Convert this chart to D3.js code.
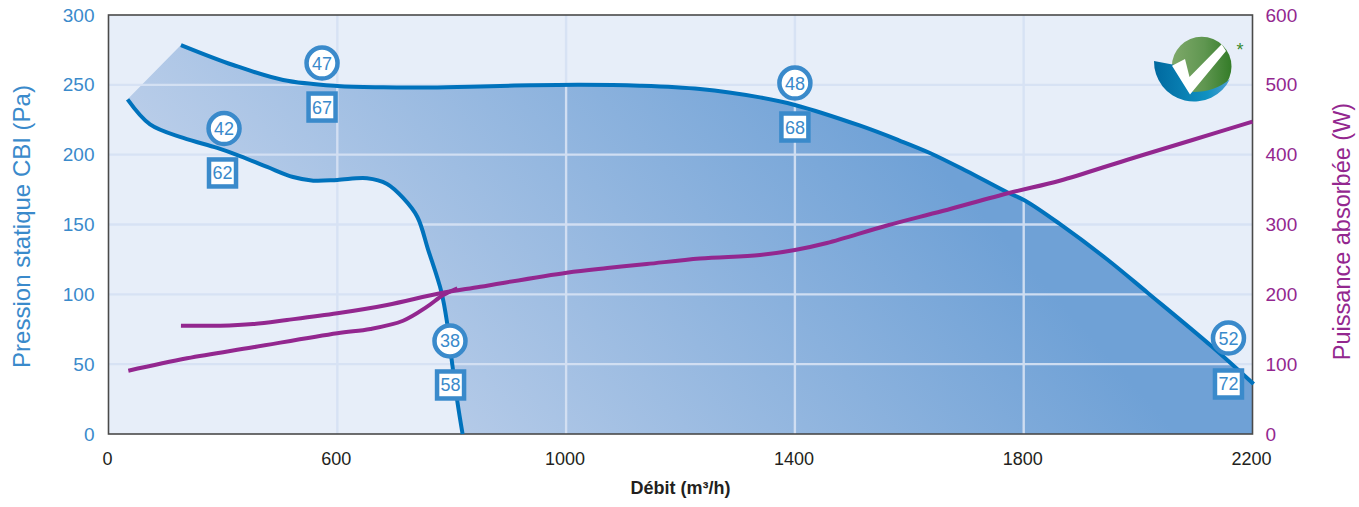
<!DOCTYPE html>
<html><head><meta charset="utf-8">
<script src="https://cdnjs.cloudflare.com/ajax/libs/d3/7.8.5/d3.min.js"></script>
<style>html,body{margin:0;padding:0;background:#fff}svg{display:block}text{font-family:"Liberation Sans",Arial,sans-serif}</style>
</head><body><svg id="c" width="1359" height="507"></svg>
<script>
// Axis ticks (the reference's scale is equally spaced, with a non-linear first interval)
const xTicks = [0, 600, 1000, 1400, 1800, 2200];
const pressureTicks = [0, 50, 100, 150, 200, 250, 300];
const powerTicks = [0, 100, 200, 300, 400, 500, 600];

// [debit m3/h, pressure Pa]
const curveHigh = [[190,278.5],[327,264.2],[458,253.5],[600,249.2],[680,248.2],[762,248.1],[850,248.8],[937,249.7],[1024,250.1],[1129,249.4],[1234,247],[1339,241],[1400,235.6],[1513,220.9],[1583,210.1],[1636,201.2],[1700,188.3],[1772,172.9],[1802,167.2],[1863,150.4],[1945,125.3],[2017,101],[2130,62.3],[2202,35.8]];
const curveLow = [[50,239.6],[109,221.7],[196,212],[285,204.8],[345,199],[416,191.2],[484,184],[537,181.4],[600,181.9],[652,183.1],[687,179],[715,169],[740,155.4],[759,131.7],[782,101.7],[792,79.5],[800,53],[810,22.9],[819,0]];
// [debit m3/h, power W]
const powerHigh = [[190,155.1],[293,155.1],[379,157.5],[468,163.3],[600,172.8],[687,184.7],[780,201.5],[850,210.9],[1001,231],[1072,237.7],[1141,243.4],[1234,251.3],[1339,256.3],[1400,263.5],[1456,273.5],[1561,298.6],[1658,319.3],[1776,345.5],[1863,362.7],[1980,392.4],[2095,421],[2200,447.2]];
const powerLow = [[52,90.6],[206,108.4],[379,124.2],[600,144.3],[658,150.4],[715,162.2],[757,182.3],[785,199],[810,208.6]];
// Annotated operating points: [debit, pressure, label]
const circleMarks = [[560,265.6,"47"],[303,218.7,"42"],[1400,251.3,"48"],[797,66.6,"38"],[2158,68.7,"52"]];
const squareMarks = [[560,234.1,"67"],[299,186.9,"62"],[1400,219.8,"68"],[798,35.1,"58"],[2158,35.8,"72"]];

const L=108.5,R=1252.5,T=15,B=434;
const BLUE="#3a8acb",LINE="#0072bc",PURPLE="#93278f";
const svg=d3.select("#c");
const x=d3.scaleLinear().domain([0,600,2200]).range([L,L+(R-L)/5,R]);
const yP=d3.scaleLinear().domain([0,300]).range([B,T]);
const yW=d3.scaleLinear().domain([0,600]).range([B,T]);

const defs=svg.append("defs");
const grad=defs.append("linearGradient").attr("id","fill").attr("gradientUnits","userSpaceOnUse")
  .attr("x1",470).attr("y1",500).attr("x2",900).attr("y2",120);
grad.append("stop").attr("offset",0).attr("stop-color","#b9cde9");
grad.append("stop").attr("offset",1).attr("stop-color","#6fa1d6");
const gb=defs.append("linearGradient").attr("id","lb");
gb.append("stop").attr("offset",0).attr("stop-color","#00699f");
gb.append("stop").attr("offset",.7).attr("stop-color","#1091c2");
gb.append("stop").attr("offset",1).attr("stop-color","#4f9fd2");
const gg=defs.append("linearGradient").attr("id","lg");
gg.append("stop").attr("offset",0).attr("stop-color","#7fa96a");
gg.append("stop").attr("offset",.55).attr("stop-color","#5f9650");
gg.append("stop").attr("offset",1).attr("stop-color","#347c28");
defs.append("clipPath").attr("id","plot").append("rect").attr("x",L).attr("y",T).attr("width",R-L).attr("height",B-T);

svg.append("rect").attr("x",L).attr("y",T).attr("width",R-L).attr("height",B-T).attr("fill","#e7eef9");

// Shaded operating zone between both pressure curves
const line=(sx,sy)=>d3.line().x(d=>sx(d[0])).y(d=>sy(d[1])).curve(d3.curveCatmullRom.alpha(0.5));
const upperPath=line(x,yP)(curveHigh), lowerPath=line(x,yP)(curveLow.slice().reverse());
svg.append("path").attr("clip-path","url(#plot)").attr("fill","url(#fill)")
  .attr("d",upperPath+"L"+R+","+B+"L"+x(curveLow[curveLow.length-1][0])+","+B+"L"+lowerPath.slice(1)+"Z");

// Grid
const grid=svg.append("g").attr("stroke","#d6e2f4").attr("stroke-width",2.4).attr("opacity",.92);
pressureTicks.slice(1,-1).forEach(t=>grid.append("line").attr("x1",L).attr("x2",R).attr("y1",yP(t)).attr("y2",yP(t)));
xTicks.slice(1,-1).forEach(t=>grid.append("line").attr("y1",T).attr("y2",B).attr("x1",x(t)).attr("x2",x(t)));

// Frame
svg.append("rect").attr("x",L).attr("y",T).attr("width",R-L).attr("height",B-T).attr("fill","none").attr("stroke","#4a4a4a").attr("stroke-width",1.6);

// Curves
[curveHigh,curveLow].forEach(c=>svg.append("path").attr("d",line(x,yP)(c)).attr("fill","none").attr("stroke",LINE).attr("stroke-width",4));
[powerLow,powerHigh].forEach(c=>svg.append("path").attr("d",line(x,yW)(c)).attr("fill","none").attr("stroke",PURPLE).attr("stroke-width",4));

// Logo
const logo=svg.append("g");
logo.append("circle").attr("cx",1201.7).attr("cy",66.5).attr("r",29.8).attr("fill","url(#lg)");
logo.append("path").attr("fill","url(#lb)").attr("d","M1154,61L1175,65L1193,92Q1215,92 1230,79A40 40 0 0 1 1154,61Z");
logo.append("path").attr("fill","#fff").attr("d","M1172,65.7L1185,59L1189.5,77L1221.7,44.3L1226,51L1190,94.5Z");
logo.append("text").attr("x",1240).attr("y",56).attr("text-anchor","middle").attr("font-size",18).attr("fill","#3a8a30").text("*");

// Operating-point markers
const mk=svg.append("g");
circleMarks.forEach(d=>{
  mk.append("circle").attr("cx",x(d[0])).attr("cy",yP(d[1])).attr("r",15.5).attr("fill","#fff").attr("stroke",BLUE).attr("stroke-width",4.5);
  mk.append("text").attr("x",x(d[0])).attr("y",yP(d[1])+6.5).attr("text-anchor","middle").attr("font-size",18).attr("fill",BLUE).text(d[2]);
});
squareMarks.forEach(d=>{
  mk.append("rect").attr("x",x(d[0])-13.5).attr("y",yP(d[1])-13.5).attr("width",27).attr("height",27).attr("fill","#fff").attr("stroke",BLUE).attr("stroke-width",4.5);
  mk.append("text").attr("x",x(d[0])).attr("y",yP(d[1])+6.5).attr("text-anchor","middle").attr("font-size",18).attr("fill",BLUE).text(d[2]);
});

// Axes
function style(g,color,size){g.select(".domain").remove();g.selectAll(".tick line").remove();g.selectAll("text").attr("fill",color).attr("font-size",size).attr("font-family",'"Liberation Sans",Arial,sans-serif');}
svg.append("g").attr("transform",`translate(${L-1},0)`).call(d3.axisLeft(yP).tickValues(pressureTicks).tickSize(0).tickPadding(13)).call(style,BLUE,19);
svg.append("g").attr("transform",`translate(${R},0)`).call(d3.axisRight(yW).tickValues(powerTicks).tickSize(0).tickPadding(13)).call(style,PURPLE,19);
svg.append("g").attr("transform",`translate(-1.5,${B})`).call(d3.axisBottom(x).tickValues(xTicks).tickFormat(d3.format("d")).tickSize(0).tickPadding(18)).call(style,"#231f20",18);

svg.append("text").attr("transform","translate(30,226.5) rotate(-90)").attr("text-anchor","middle").attr("font-size",24).attr("fill",BLUE).text("Pression statique CBI (Pa)");
svg.append("text").attr("transform","translate(1350,231.5) rotate(-90)").attr("text-anchor","middle").attr("font-size",23.5).attr("fill",PURPLE).text("Puissance absorbée (W)");
svg.append("text").attr("x",680.5).attr("y",494).attr("text-anchor","middle").attr("font-size",18).attr("font-weight","bold").attr("fill","#231f20").text("Débit (m³/h)");
</script></body></html>
